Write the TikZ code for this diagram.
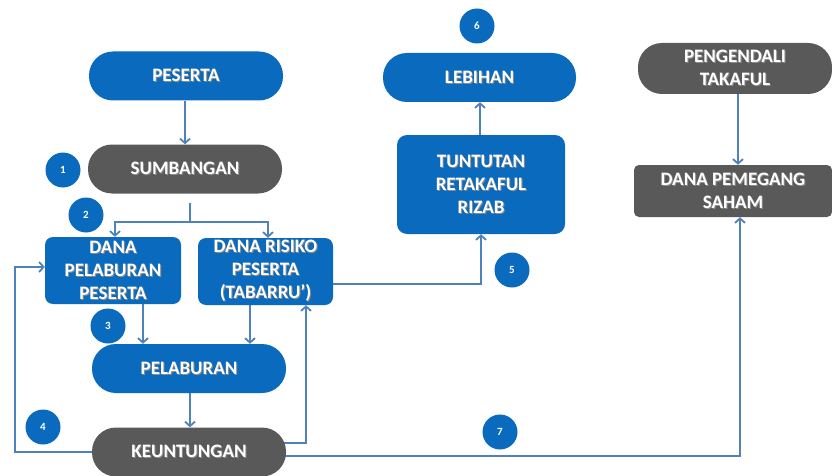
\documentclass[tikz,border=0pt]{standalone}
\usepackage{fontspec}
\setmainfont{Carlito}
\usetikzlibrary{arrows.meta,backgrounds}

\definecolor{fundblue}{RGB}{10,107,190}
\definecolor{fundgray}{RGB}{89,89,89}
\definecolor{flowline}{RGB}{79,129,189}

% white label with a soft dark drop shadow
\newcommand{\ts}[1]{\makebox[0pt][l]{\hspace*{1pt}\raisebox{-1pt}{\color{black!45}#1}}#1}

\tikzset{
  boxtext/.style={text=white, font=\fontsize{19}{23}\selectfont\bfseries, align=center, inner sep=0pt},
  pill/.style={boxtext, rounded corners=24pt, minimum width=194pt, minimum height=49pt},
  blockbox/.style={boxtext, rounded corners=8pt},
  bluefill/.style={fill=fundblue},
  grayfill/.style={fill=fundgray},
  stepnum/.style={circle, fill=fundblue, text=white, minimum size=35pt, inner sep=0pt,
                  font=\fontsize{11}{13}\selectfont\bfseries},
  flow/.style={draw=flowline, line width=1.8pt},
  flowarrow/.style={flow, -{Straight Barb[length=4.5pt,width=10pt,line width=1.8pt]}},
}

\begin{document}
\begin{tikzpicture}[x=1pt, y=-1pt]
  \useasboundingbox (0,0) rectangle (832,476);
  \clip (0,0) rectangle (832,476);

  % participant side
  \node[pill, bluefill] (peserta) at (186,76) {\ts{PESERTA}};
  \node[pill, grayfill] (sumbangan) at (185,169) {\ts{SUMBANGAN}};
  \node[blockbox, bluefill, minimum width=136pt, minimum height=67pt] (dpp) at (113,270.5)
       {\ts{DANA}\\\ts{PELABURAN}\\\ts{PESERTA}};
  \node[blockbox, bluefill, minimum width=135pt, minimum height=67pt] (drp) at (265.5,271.5)
       {\ts{DANA RISIKO}\\\ts{PESERTA}\\\ts{(TABARRU’)}};
  \node[pill, bluefill] (pelaburan) at (189,368.5) {\ts{PELABURAN}};
  \node[pill, grayfill] (untung) at (189,452) {\ts{KEUNTUNGAN}};

  % surplus side
  \node[blockbox, bluefill, rounded corners=10pt, minimum width=168pt, minimum height=99pt] (tuntutan) at (481,184.5)
       {\ts{TUNTUTAN}\\\ts{RETAKAFUL}\\\ts{RIZAB}};
  \node[pill, bluefill, minimum width=193pt] (lebihan) at (479.5,77.5) {\ts{LEBIHAN}};

  % operator side
  \node[pill, grayfill, minimum height=51pt] (pengendali) at (735,68.5)
       {\ts{PENGENDALI}\\\ts{TAKAFUL}};
  \node[blockbox, grayfill, rounded corners=5pt, minimum width=198pt, minimum height=52pt] (pemegang) at (733,191)
       {\ts{DANA PEMEGANG}\\\ts{SAHAM}};

  % step numbers
  \node[stepnum] (n1) at (63,170) {1};
  \node[stepnum] (n2) at (86,215) {2};
  \node[stepnum] (n3) at (108,326) {3};
  \node[stepnum] (n4) at (43,427) {4};
  \node[stepnum] (n5) at (512,270) {5};
  \node[stepnum] (n6) at (477,26) {6};
  \node[stepnum] (n7) at (500,432) {7};

  % split point below the contribution
  \coordinate (splittop) at (190,203);
  \coordinate (splitbar) at (190,222);

  \begin{pgfonlayer}{background}
    \draw[flowarrow] (peserta.south -| 185,0) -- (sumbangan.north -| 185,0);
    \draw[flow] (splittop) -- (splitbar);
    \draw[flowarrow] (splitbar) -| (dpp.north -| 115,0);
    \draw[flowarrow] (splitbar) -| (drp.north -| 268,0);
    \draw[flowarrow] (dpp.south -| 143,0) -- (pelaburan.north -| 143,0);
    \draw[flowarrow] (drp.south -| 250,0) -- (pelaburan.north -| 250,0);
    \draw[flowarrow] (pelaburan.south -| 190,0) -- (untung.north -| 190,0);
    % profit returned to the investment fund
    \draw[flowarrow] ([xshift=6pt]untung.west) -| (15,267) -- (dpp.west |- 0,267);
    % profit returned to the risk fund
    \draw[flowarrow] ([xshift=-6pt,yshift=9pt]untung.east) -| (drp.south -| 306,0);
    % risk fund to claims and reserves
    \draw[flowarrow] (drp.east |- 0,284) -| (tuntutan.south -| 481,0);
    \draw[flowarrow] (tuntutan.north -| 480,0) -- (lebihan.south -| 480,0);
    % operator and shareholders
    \draw[flowarrow] (pengendali.south -| 738,0) -- (pemegang.north -| 738,0);
    \draw[flowarrow] ([xshift=-6pt,yshift=-4pt]untung.east) -| (pemegang.south -| 740,0);
  \end{pgfonlayer}
\end{tikzpicture}
\end{document}
